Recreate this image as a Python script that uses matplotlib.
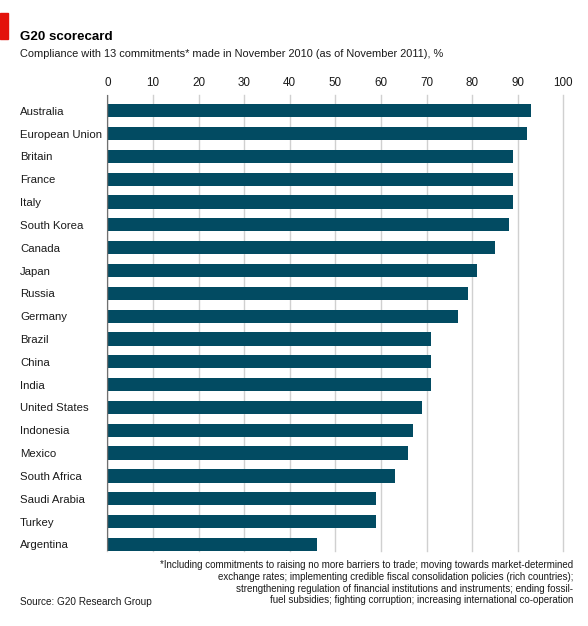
import numpy as np
import matplotlib.pyplot as plt
import matplotlib.patches as mpatches

countries = ['Australia', 'European Union', 'Britain', 'France', 'Italy',
             'South Korea', 'Canada', 'Japan', 'Russia', 'Germany', 'Brazil',
             'China', 'India', 'United States', 'Indonesia', 'Mexico',
             'South Africa', 'Saudi Arabia', 'Turkey', 'Argentina']
compliance = [93, 92, 89, 89, 89, 88, 85, 81, 79, 77, 71,
              71, 71, 69, 67, 66, 63, 59, 59, 46]
ticks = [0, 10, 20, 30, 40, 50, 60, 70, 80, 90, 100]

title = 'G20 scorecard'
subtitle = 'Compliance with 13 commitments* made in November 2010 (as of November 2011), %'
footnote = ('*Including commitments to raising no more barriers to trade; moving towards market-determined\n'
            'exchange rates; implementing credible fiscal consolidation policies (rich countries);\n'
            'strengthening regulation of financial institutions and instruments; ending fossil-\n'
            'fuel subsidies; fighting corruption; increasing international co-operation')
source = 'Source: G20 Research Group'

plt.rcParams['font.family'] = ['Liberation Sans Narrow', 'Liberation Sans', 'DejaVu Sans']
W, H = 588, 626
fig = plt.figure(figsize=(W / 100, H / 100), dpi=100)
txt = '#1a1a1a'
bar_col = '#024b62'

# axes: 0 at x=107.3px, 100 at x=563.3px; top 95px, bottom 551px
ax = fig.add_axes([107.3 / W, 1 - 551 / H, 456 / W, 456 / H])
y = np.arange(len(countries))
ax.barh(y, compliance, height=0.58, color=bar_col, zorder=3)
ax.set_xlim(0, 100)
ax.set_ylim(19.29, -0.69)

ax.set_xticks(ticks)
ax.xaxis.tick_top()
ax.tick_params(axis='x', length=0, pad=4, labelsize=8.4, labelcolor=txt)
ax.grid(axis='x', color='#d0d0d0', linewidth=1.0, zorder=0)
for gl in ax.get_xgridlines():
    gl.set_clip_on(False)
ax.axvline(0, color='#707070', linewidth=1.0, zorder=4)

ax.set_yticks(y, countries)
ax.tick_params(axis='y', length=0, pad=(107.3 - 20) * 0.72, labelsize=8.2, labelcolor=txt)
for lab in ax.get_yticklabels():
    lab.set_horizontalalignment('left')

for s in ax.spines.values():
    s.set_visible(False)

fig.patches.append(mpatches.Rectangle((0, 1 - 39 / H), 8 / W, 26 / H,
                                      transform=fig.transFigure, color='#e3120b'))
fig.text(20 / W, 1 - 39.5 / H, title, fontsize=9.6, fontweight='bold', color='black',
         va='baseline', ha='left')
fig.text(20 / W, 1 - 54 / H, subtitle, fontsize=7.95, color=txt, va='center', ha='left')
fig.text(573 / W, 1 - 560 / H, footnote, fontsize=7.0, color=txt, va='top', ha='right',
         linespacing=1.22)
fig.text(20 / W, 1 - 602 / H, source, fontsize=7.2, color=txt, va='center', ha='left')

fig.savefig('out.png', dpi=100)
